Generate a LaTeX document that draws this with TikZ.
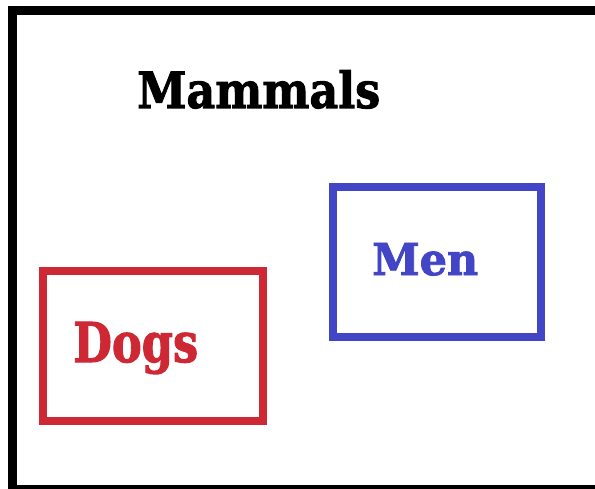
\documentclass[tikz,border=0pt]{standalone}
\usepackage{fontspec}
\setmainfont{DejaVu Serif}[BoldFeatures={FakeBold=2}]
\definecolor{dogred}{RGB}{206,40,52}
\definecolor{menblue}{RGB}{66,70,198}
\tikzset{
  setbox/.style={draw, line width=8pt, inner sep=0pt, fill=none},
  label/.style={anchor=base west, inner sep=0pt, font=\bfseries}
}
\begin{document}
\begin{tikzpicture}[x=1pt,y=1pt]
\useasboundingbox (0,0) rectangle (595,488);
\fill[white] (0,0) rectangle (595,488);
\begin{scope}
\clip (0,0) rectangle (595,488);
\draw[line width=9pt] (12.5,-1.5) rectangle (610,477.5);
\end{scope}
\node[setbox, draw=dogred, minimum width=220.5pt, minimum height=150pt] (dogsbox) at (152.75,142) {};
\node[setbox, draw=menblue, minimum width=207.5pt, minimum height=150.5pt] (menbox) at (436.75,225.75) {};
\node[label] (mammals) at (137,380) {\resizebox{243pt}{38pt}{Mammals}};
\node[label, text=dogred] (dogs) at (73,126) {\resizebox{125pt}{40pt}{Dogs}};
\node[label, text=menblue] (men) at (372,213) {\resizebox{106pt}{32pt}{Men}};
\end{tikzpicture}
\end{document}
